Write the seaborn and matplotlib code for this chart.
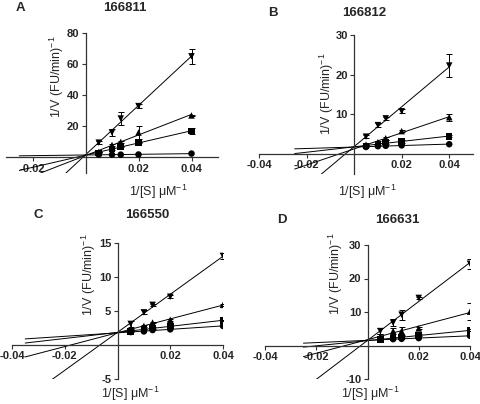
import numpy as np
import pandas as pd
import seaborn as sns
import matplotlib.pyplot as plt

# 1/[S] values (uM^-1)
inv_s = [0.005, 0.01, 0.0133, 0.02, 0.04]
series = ['circle', 'square', 'up', 'down']
markers = {'circle': 'o', 'square': 's', 'up': '^', 'down': 'v'}

# panel A : 166811
a_circle = [1.8, 1.8, 1.8, 1.9, 2.5]
a_square = [3.0, 5.5, 7.0, 9.5, 17.0]
a_up = [3.5, 8.0, 10.0, 16.0, 27.0]
a_down = [9.5, 16.0, 25.0, 33.0, 65.0]
a_err_square = [0.3, 0.5, 0.5, 0.5, 1.8]
a_err_up = [0.3, 0.5, 0.6, 4.0, 0.5]
a_err_down = [0.8, 2.0, 4.0, 1.5, 5.0]

# panel B : 166812
b_circle = [1.8, 2.0, 2.1, 2.2, 2.5]
b_square = [2.0, 2.5, 3.0, 3.2, 4.5]
b_up = [2.4, 3.0, 4.0, 5.8, 9.3]
b_down = [4.4, 7.3, 9.0, 10.8, 22.3]
b_err_square = [0.2, 0.3, 0.5, 0.3, 0.2]
b_err_up = [0.2, 0.3, 0.4, 0.3, 0.9]
b_err_down = [0.4, 0.5, 0.4, 0.5, 3.0]

# panel C : 166550
c_circle = [1.9, 2.0, 2.2, 2.3, 2.8]
c_square = [2.0, 2.3, 2.5, 2.8, 3.6]
c_up = [2.3, 2.8, 3.3, 3.7, 5.9]
c_down = [3.1, 4.8, 5.9, 7.1, 13.1]
c_err_square = [0.1, 0.1, 0.1, 0.1, 0.1]
c_err_up = [0.1, 0.1, 0.1, 0.1, 0.1]
c_err_down = [0.4, 0.3, 0.2, 0.2, 0.5]

# panel D : 166631
d_circle = [1.7, 1.9, 2.0, 2.2, 2.9]
d_square = [1.8, 2.2, 2.5, 3.0, 4.5]
d_up = [2.8, 4.3, 4.3, 5.1, 10.1]
d_down = [4.3, 6.8, 9.2, 14.2, 24.4]
d_err_square = [0.2, 0.2, 0.3, 0.3, 0.3]
d_err_up = [0.5, 0.8, 1.2, 0.3, 2.5]
d_err_down = [1.0, 1.0, 1.5, 0.3, 1.5]

panels = [
    dict(letter='A', title='166811', vals=[a_circle, a_square, a_up, a_down],
         errs=[None, a_err_square, a_err_up, a_err_down],
         xlim=(-0.03, 0.05), ylim=(-10, 80),
         xticks=[-0.02, 0.02, 0.04], xticklabels=['-0.02', '0.02', '0.04'],
         yticks=[20, 40, 60, 80], line_start=-0.025,
         pos=[6, 33, 218, 173], ylab=(0.240, 0.686), xlab=(0.717, -0.136),
         letter_xy=(20, 8), title_xy=(125, 8)),
    dict(letter='B', title='166812', vals=[b_circle, b_square, b_up, b_down],
         errs=[None, b_err_square, b_err_up, b_err_down],
         xlim=(-0.04, 0.05), ylim=(-5, 30),
         xticks=[-0.04, -0.02, 0.02, 0.04], xticklabels=['-0.04', '-0.02', '0.02', '0.04'],
         yticks=[10, 20, 30], line_start=-0.025,
         pos=[259, 35, 473, 174], ylab=(0.315, 0.576), xlab=(0.505, -0.129),
         letter_xy=(273, 13), title_xy=(364, 13)),
    dict(letter='C', title='166550', vals=[c_circle, c_square, c_up, c_down],
         errs=[None, c_err_square, c_err_up, c_err_down],
         xlim=(-0.04, 0.04), ylim=(-5, 15),
         xticks=[-0.04, -0.02, 0.02, 0.04], xticklabels=['-0.04', '-0.02', '0.02', '0.04'],
         yticks=[-5, 5, 10, 15], line_start=-0.035,
         pos=[12, 243, 223, 379], ylab=(0.365, 0.768), xlab=(0.560, -0.11),
         letter_xy=(38, 215), title_xy=(147, 215)),
    dict(letter='D', title='166631', vals=[d_circle, d_square, d_up, d_down],
         errs=[None, d_err_square, d_err_up, d_err_down],
         xlim=(-0.04, 0.04), ylim=(-10, 30),
         xticks=[-0.04, -0.02, 0.02, 0.04], xticklabels=['-0.04', '-0.02', '0.02', '0.04'],
         yticks=[-10, 10, 20, 30], line_start=-0.025,
         pos=[265, 245, 470, 379], ylab=(0.348, 0.783), xlab=(0.515, -0.11),
         letter_xy=(282, 220), title_xy=(397, 220)),
]

sns.set_theme(style='ticks')
plt.rcParams['font.family'] = ['Liberation Sans', 'DejaVu Sans']
plt.rcParams['axes.unicode_minus'] = False
plt.rcParams['mathtext.default'] = 'regular'

W, H = 480, 404
fig = plt.figure(figsize=(W / 100, H / 100), dpi=100)

for p in panels:
    x0, y0, x1, y1 = p['pos']
    ax = fig.add_axes([x0 / W, 1 - y1 / H, (x1 - x0) / W, (y1 - y0) / H])

    # regression lines from the line start to the last point
    ax.set_xlim(p['line_start'], 0.04)
    for vals in p['vals']:
        sns.regplot(x=np.array(inv_s), y=np.array(vals), ax=ax, scatter=False,
                    ci=None, truncate=False, color='black',
                    line_kws=dict(lw=0.7))

    # error bars
    for vals, err in zip(p['vals'], p['errs']):
        if err is not None:
            ax.errorbar(inv_s, vals, yerr=err, fmt='none', ecolor='black',
                        elinewidth=0.7, capsize=2.2, capthick=0.7)

    df = pd.DataFrame({
        'x': inv_s * 4,
        'y': sum(p['vals'], []),
        'grp': np.repeat(series, len(inv_s)),
    })
    sns.scatterplot(data=df, x='x', y='y', style='grp', markers=markers,
                    color='black', s=22, edgecolor='black', linewidth=0,
                    legend=False, ax=ax, zorder=5)

    ax.set_xlim(*p['xlim'])
    ax.set_ylim(*p['ylim'])
    ax.spines['left'].set_position(('data', 0))
    ax.spines['bottom'].set_position(('data', 0))
    ax.spines['top'].set_visible(False)
    ax.spines['right'].set_visible(False)
    for s in ['left', 'bottom']:
        ax.spines[s].set_color('#333333')
        ax.spines[s].set_linewidth(0.9)
    ax.set_xticks(p['xticks'])
    ax.set_xticklabels(p['xticklabels'])
    ax.set_yticks(p['yticks'])
    ax.tick_params(direction='out', length=3, width=0.8, color='#333333',
                   labelsize=8, pad=1.5)
    for t in ax.get_xticklabels() + ax.get_yticklabels():
        t.set_fontweight('bold')

    ax.set_ylabel('1/V (FU/min)$^{-1}$', fontsize=9, va='center', ha='center')
    ax.yaxis.set_label_coords(*p['ylab'])
    ax.set_xlabel(r'1/[S] $\mu$M$^{-1}$', fontsize=9, va='center', ha='center')
    ax.xaxis.set_label_coords(*p['xlab'])

    lx, ly = p['letter_xy']
    fig.text(lx / W, 1 - ly / H, p['letter'], fontsize=9.5, fontweight='bold',
             ha='center', va='center')
    tx, ty = p['title_xy']
    fig.text(tx / W, 1 - ty / H, p['title'], fontsize=9.5, fontweight='bold',
             ha='center', va='center')

fig.savefig('out.png', dpi=100)
